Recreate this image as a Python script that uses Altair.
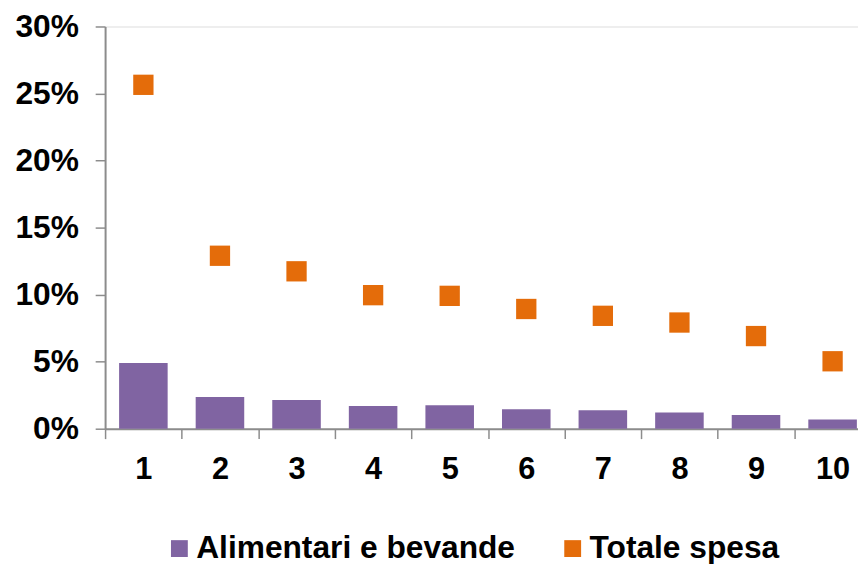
import altair as alt
import pandas as pd

deciles = [1, 2, 3, 4, 5, 6, 7, 8, 9, 10]
alimentari = [0.049, 0.0236, 0.0214, 0.0170, 0.0175, 0.0145, 0.0138, 0.0120, 0.0103, 0.0069]
totale = [0.2565, 0.129, 0.1174, 0.0996, 0.0991, 0.0893, 0.0842, 0.0792, 0.0691, 0.0503]
series = ["Alimentari e bevande", "Totale spesa"]
colors = ["#8064A2", "#E46C0A"]
y_ticks = [0, 0.05, 0.10, 0.15, 0.20, 0.25, 0.30]

bars_df = pd.DataFrame({"decile": deciles, "valore": alimentari, "serie": series[0]})
pts_df = pd.DataFrame({"decile": deciles, "valore": totale, "serie": series[1]})

FONT = "Liberation Sans"
AXIS_GRAY = "#8C8C8C"

x_enc = alt.X(
    "decile:O",
    scale=alt.Scale(range=[0, 773], paddingInner=0, paddingOuter=0),
    axis=alt.Axis(
        title=None, labelAngle=0, tickBand="extent", labelFontSize=31,
        labelFont=FONT, labelFontWeight="bold", labelColor="#000000",
        labelPadding=16, tickSize=10, domainColor=AXIS_GRAY, tickColor=AXIS_GRAY,
        domainWidth=2, tickWidth=1.5,
    ),
)
y_enc = alt.Y(
    "valore:Q",
    scale=alt.Scale(domain=[0, 0.30], nice=False),
    axis=alt.Axis(
        title=None, format=".0%", values=y_ticks, grid=False, labelFontSize=32,
        labelFont=FONT, labelFontWeight="bold", labelColor="#000000",
        labelPadding=17, tickSize=10, domainColor=AXIS_GRAY, tickColor=AXIS_GRAY,
        domainWidth=2, tickWidth=1.5,
    ),
)
color_enc = alt.Color(
    "serie:N",
    scale=alt.Scale(domain=series, range=colors),
    legend=alt.Legend(
        title=None, orient="none", direction="horizontal", legendX=59, legendY=511,
        symbolType="square", symbolSize=289, symbolStrokeWidth=0,
        labelFontSize=32, labelFont=FONT, labelFontWeight="bold", labelColor="#000000",
        labelOffset=1, columnPadding=42, padding=0, symbolOpacity=1, labelLimit=500,
    ),
)

bars = alt.Chart(bars_df).mark_bar(opacity=1, width=alt.RelativeBandSize(0.634)).encode(
    x=x_enc, y=y_enc, color=color_enc
)
pts = alt.Chart(pts_df).mark_square(size=420, opacity=1).encode(x=x_enc, y=y_enc, color=color_enc)

chart = (
    alt.layer(bars, pts)
    .properties(
        width=760, height=406,
        autosize=alt.AutoSizeParams(type="none"),
        padding={"left": 98, "top": 16, "right": 0, "bottom": 145},
    )
    .configure_view(stroke=None)
    .configure(background="#ffffff")
)

chart.save("out.html", embed_options={"renderer": "svg", "actions": False})
